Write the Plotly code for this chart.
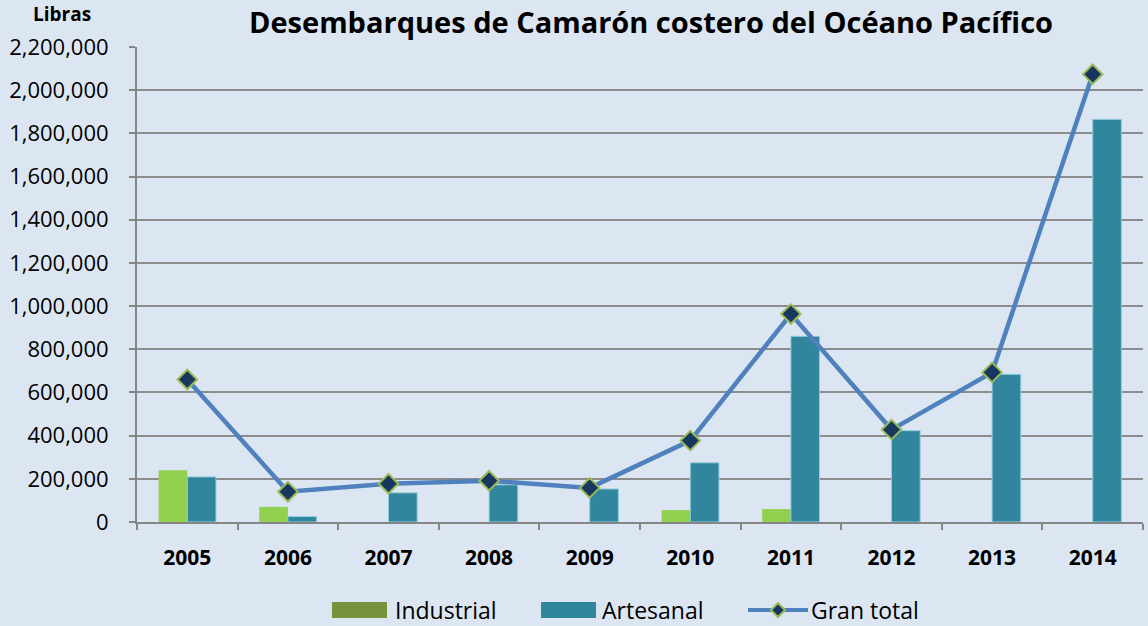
import plotly.graph_objects as go

years = ["2005", "2006", "2007", "2008", "2009", "2010", "2011", "2012", "2013", "2014"]
industrial = [240000, 70000, 0, 0, 0, 55000, 60000, 0, 0, 0]
artesanal = [209000, 25000, 135000, 172000, 153000, 274000, 860000, 423000, 684000, 1865000]
gran_total = [660000, 140000, 177000, 191000, 158000, 377000, 963000, 428000, 693000, 2074000]
y_ticks = list(range(0, 2200001, 200000))

W, H = 1148, 626
L, R, T, B = 137, 5, 47, 104
font = "Open Sans"


def px(x):
    return (x - L) / (W - L - R)


def py(y):
    return (H - B - y) / (H - T - B)


fig = go.Figure()
fig.add_trace(go.Bar(x=years, y=industrial, name="Industrial", showlegend=False,
                     marker=dict(color="#92D050", line=dict(width=0))))
fig.add_trace(go.Bar(x=years, y=artesanal, name="Artesanal", showlegend=False,
                     marker=dict(color="#31859C", line=dict(color="#93CDDD", width=1))))
fig.add_trace(go.Scatter(x=years, y=gran_total, name="Gran total", mode="lines+markers",
                         showlegend=False,
                         line=dict(color="#4F81BD", width=4.5),
                         marker=dict(symbol="diamond", size=15, color="#17375E",
                                     line=dict(color="#9BBB59", width=2))))

shapes = []
annotations = []
ly = 610
# legend swatches
shapes.append(dict(type="rect", xref="paper", yref="paper", x0=px(332), x1=px(387),
                   y0=py(618), y1=py(602), fillcolor="#77933C", line=dict(width=0)))
shapes.append(dict(type="rect", xref="paper", yref="paper", x0=px(541), x1=px(596),
                   y0=py(618), y1=py(602), fillcolor="#31859C", line=dict(width=0)))
shapes.append(dict(type="line", xref="paper", yref="paper", x0=px(748), x1=px(808),
                   y0=py(ly), y1=py(ly), line=dict(color="#4F81BD", width=4)))
d = 7
shapes.append(dict(type="path", xref="paper", yref="paper",
                   path=f"M {px(778-d)},{py(ly)} L {px(778)},{py(ly-d)} L {px(778+d)},{py(ly)} L {px(778)},{py(ly+d)} Z",
                   fillcolor="#17375E", line=dict(color="#9BBB59", width=2)))
for x0, txt in [(393, "Industrial"), (600, "Artesanal"), (809, "Gran total")]:
    annotations.append(dict(text=txt, xref="paper", yref="paper", x=px(x0), y=py(ly),
                            xanchor="left", yanchor="middle", showarrow=False,
                            font=dict(family=font, size=23, color="#000000")))
annotations.append(dict(text="<b>Libras</b>", xref="paper", yref="paper", x=px(62), y=py(14),
                        xanchor="center", yanchor="middle", showarrow=False,
                        font=dict(family=font, size=19, color="#000000")))

fig.update_layout(
    width=W, height=H,
    paper_bgcolor="#DCE6F2", plot_bgcolor="#DCE6F2",
    margin=dict(l=L, r=R, t=T, b=B, autoexpand=False),
    barmode="group", bargap=0.43, bargroupgap=0,
    showlegend=False,
    title=dict(text="<b>Desembarques de Camarón costero del Océano Pacífico</b>",
               x=651 / W, xanchor="center", y=1 - 23 / H, yanchor="middle",
               font=dict(family=font, size=29, color="#000000")),
    font=dict(family=font, color="#000000"),
    shapes=shapes,
    annotations=annotations,
)
fig.update_xaxes(range=[-0.5, len(years) - 0.5],
                 showgrid=False, showline=True, linecolor="#868686", linewidth=2,
                 ticks="outside", tickson="boundaries", ticklen=6, tickcolor="#868686",
                 tickwidth=2, automargin=False,
                 tickfont=dict(family=font, size=21, color="#000000"),
                 tickprefix="<b>", ticksuffix="</b>", ticklabelstandoff=16)
fig.update_yaxes(range=[0, 2200000], tickvals=y_ticks, tickformat=",",
                 showgrid=True, gridcolor="#8C8C8C", gridwidth=2,
                 showline=True, linecolor="#868686", linewidth=2,
                 ticks="outside", ticklen=6, tickcolor="#868686", tickwidth=2,
                 automargin=False, ticklabelstandoff=16,
                 tickfont=dict(family=font, size=22, color="#000000"), zeroline=False)

fig.write_html("out.html", config={"displayModeBar": False},
               post_script="document.body.style.margin='0';document.body.style.padding='0';")
